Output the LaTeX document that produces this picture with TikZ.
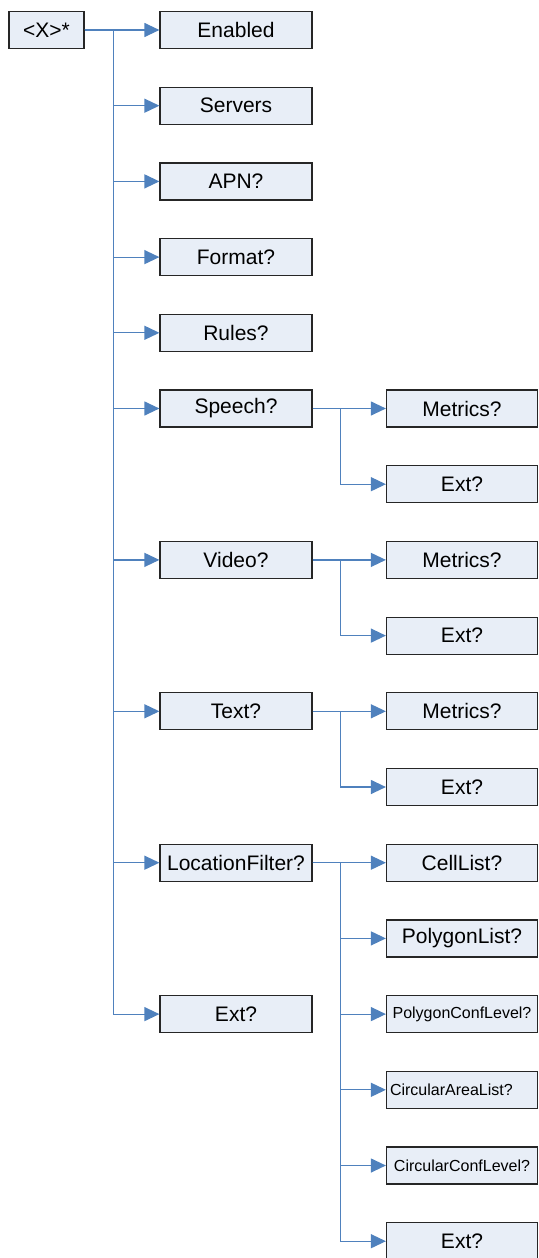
\documentclass[tikz,border=0pt]{standalone}
\usepackage{fontspec}
\setmainfont{Liberation Sans}
\usetikzlibrary{arrows.meta, positioning}
\definecolor{cLink}{RGB}{79,129,189}
\definecolor{cBox}{RGB}{232,238,247}
\tikzset{
	elem/.style    ={rectangle, draw=black!85, line width=0.6pt, fill=cBox, minimum width=76pt, minimum height=18.5pt, inner sep=0pt, align=center, font=\fontsize{10.5}{12}\selectfont},
	rootbox/.style ={elem, minimum width=37.5pt},
	subelem/.style ={elem, minimum width=75.5pt},
	small/.style   ={font=\fontsize{8}{10}\selectfont},
	link/.style    ={cLink, line width=0.6pt, -{Triangle[length=7.5pt, width=7pt]}},
}

\begin{document}
\begin{tikzpicture}[x=0.5pt, y=-0.5pt]
	\useasboundingbox (0,0) rectangle (539,1258);
	% root
	\node[rootbox] (x) at (46.5,30) {<X>*};
	% first level
	\foreach \name/\txt/\k in {en/Enabled/0, srv/Servers/1, apn/APN?/2, fmt/Format?/3, rul/Rules?/4,
	                           sp/Speech?/5, vid/Video?/7, txt/Text?/9, lf/LocationFilter?/11, ext/Ext?/13}
		\node[elem] (\name) at (236,{30+75.7*\k}) {\txt};
	% second level
	\foreach \name/\txt/\k in {spm/Metrics?/5, spe/Ext?/6, vidm/Metrics?/7, vide/Ext?/8,
	                           txtm/Metrics?/9, txte/Ext?/10, lfc/CellList?/11, lfp/PolygonList?/12, lfe/Ext?/16}
		\node[subelem] (\name) at (462,{30+75.7*\k}) {\txt};
	\node[subelem, small] (lfpc) at (462,{30+75.7*13}) {PolygonConfLevel?};
	\node[subelem, small, text width=72pt, align=left] (lfca) at (462,{30+75.7*14}) {CircularAreaList?};
	\node[subelem, small] (lfcc) at (462,{30+75.7*15}) {CircularConfLevel?};
	% connectors
	\foreach \n in {en,srv,apn,fmt,rul,sp,vid,txt,lf,ext}
		\draw[link] (x.east) -- ++(29,0) |- (\n.west);
	\foreach \p/\c in {sp/spm, sp/spe, vid/vidm, vid/vide, txt/txtm, txt/txte,
	                   lf/lfc, lf/lfp, lf/lfpc, lf/lfca, lf/lfcc, lf/lfe}
		\draw[link] (\p.east) -- ++(28,0) |- (\c.west);
\end{tikzpicture}
\end{document}
